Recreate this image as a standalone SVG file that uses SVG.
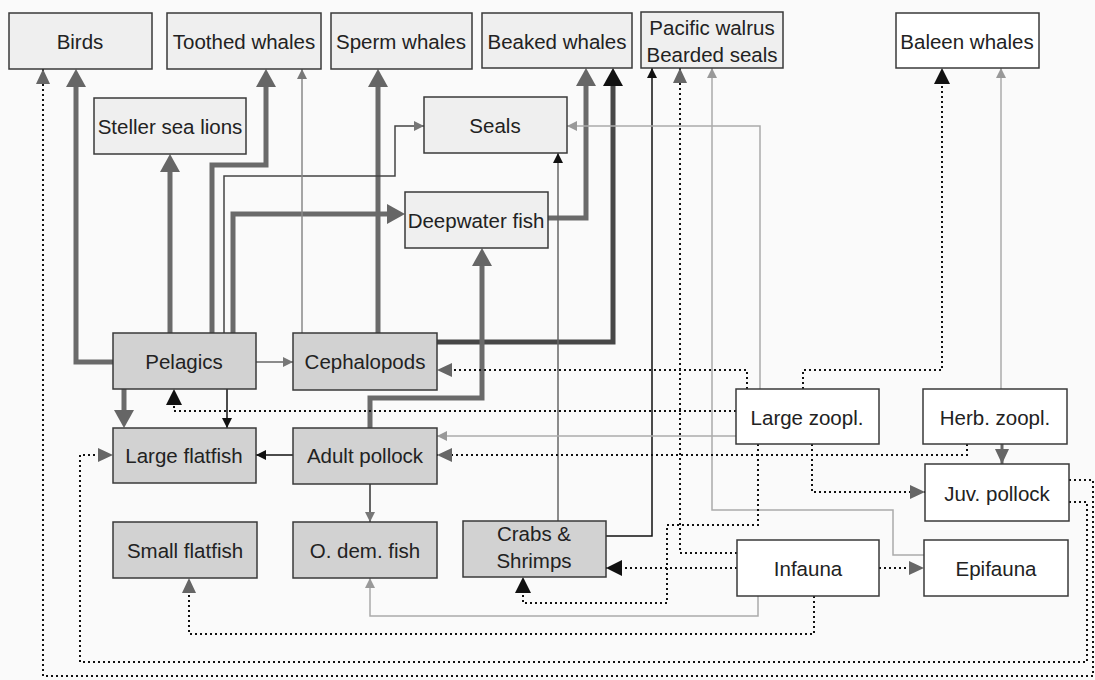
<svg xmlns="http://www.w3.org/2000/svg" width="1095" height="680" viewBox="0 0 1095 680">
<style>
.n rect{stroke:#3a3a3a;stroke-width:1.5}
.lt rect{fill:#efefef}
.dk rect{fill:#d2d2d2}
.wh rect{fill:#ffffff}
text{font-family:"Liberation Sans",Arial,sans-serif;font-size:20.5px;fill:#222;text-anchor:middle}
.c path{fill:none}
.thick{stroke:#6a6a6a;stroke-width:5}
.thickd{stroke:#474747;stroke-width:5}
.thin{stroke:#666;stroke-width:1.5}
.blk{stroke:#111;stroke-width:1.5}
.lg{stroke:#ababab;stroke-width:1.5}
.dot{stroke:#111;stroke-width:2;stroke-dasharray:2 3}
</style>
<defs>
<marker id="mT" markerUnits="userSpaceOnUse" markerWidth="20" markerHeight="20" refX="10" refY="10" orient="auto"><path d="M0,0 L18,10 L0,20 z" fill="#666"/></marker>
<marker id="mTK" markerUnits="userSpaceOnUse" markerWidth="20" markerHeight="20" refX="10" refY="10" orient="auto"><path d="M0,0 L18,10 L0,20 z" fill="#111"/></marker>
<marker id="mG" markerUnits="userSpaceOnUse" markerWidth="12" markerHeight="12" refX="10" refY="5" orient="auto"><path d="M0,0 L10,5 L0,10 z" fill="#777"/></marker>
<marker id="mK" markerUnits="userSpaceOnUse" markerWidth="12" markerHeight="12" refX="10" refY="5" orient="auto"><path d="M0,0 L10,5 L0,10 z" fill="#111"/></marker>
<marker id="mL" markerUnits="userSpaceOnUse" markerWidth="12" markerHeight="12" refX="10" refY="5" orient="auto"><path d="M0,0 L10,5 L0,10 z" fill="#999"/></marker>
<marker id="mDG" markerUnits="userSpaceOnUse" markerWidth="16" markerHeight="16" refX="15" refY="7" orient="auto"><path d="M0,0 L15,7 L0,14 z" fill="#666"/></marker>
<marker id="mDK" markerUnits="userSpaceOnUse" markerWidth="18" markerHeight="18" refX="16" refY="8" orient="auto"><path d="M0,0 L16,8 L0,16 z" fill="#111"/></marker>
</defs>
<rect x="0" y="0" width="1095" height="680" fill="#fafafa"/>
<g id="connectors" class="c">
<path class="thick" d="M113,362 H76 V77" marker-end="url(#mT)"/>
<path class="thick" d="M170,333 V162" marker-end="url(#mT)"/>
<path class="thick" d="M212,333 V165 H266 V77" marker-end="url(#mT)"/>
<path class="thick" d="M233,333 V214 H397" marker-end="url(#mT)"/>
<path class="thick" d="M124,389 V420" marker-end="url(#mT)"/>
<path class="thick" d="M378,333 V77" marker-end="url(#mT)"/>
<path class="thickd" d="M437,342 H613 V76" marker-end="url(#mTK)"/>
<path class="thick" d="M548,218 H586 V76" marker-end="url(#mT)"/>
<path class="thick" d="M370,428 V398 H482 V256" marker-end="url(#mT)"/>
<path style="stroke:#666;stroke-width:3" d="M1002,444 V464" marker-end="url(#mDG)"/>
<path class="thin" style="stroke:#444" d="M224,333 V176 H395 V126 H424" marker-end="url(#mG)"/>
<path class="thin" d="M256,362 H293" marker-end="url(#mG)"/>
<path class="thin" style="stroke:#888" d="M302,333 V69" marker-end="url(#mG)"/>
<path class="thin" style="stroke:#333" d="M370,484 V522" marker-end="url(#mG)"/>
<path class="thin" d="M558,521 V153" marker-end="url(#mK)"/>
<path class="blk" d="M227,389 V428" marker-end="url(#mK)"/>
<path class="blk" d="M293,455 H256" marker-end="url(#mK)"/>
<path class="blk" d="M606,536 H652 V68" marker-end="url(#mK)"/>
<path class="lg" d="M760,389 V126 H567" marker-end="url(#mL)"/>
<path class="lg" d="M924,555 H893 V510 H712 V68" marker-end="url(#mL)"/>
<path class="lg" d="M736,436 H437" marker-end="url(#mL)"/>
<path class="lg" d="M1001,389 V68" marker-end="url(#mL)"/>
<path class="lg" d="M758,596 V616 H370 V578" marker-end="url(#mL)"/>
<path class="dot" d="M1069,480 H1093 V676 H43 V69" marker-end="url(#mDG)"/>
<path class="dot" d="M1069,502 H1087 V662 H80 V455 H113" marker-end="url(#mDG)"/>
<path class="dot" d="M736,411 H174 V389" marker-end="url(#mDK)"/>
<path class="dot" d="M747,389 V370 H437" marker-end="url(#mDG)"/>
<path class="dot" d="M803,389 V370 H942 V68" marker-end="url(#mDK)"/>
<path class="dot" d="M967,444 V455 H437" marker-end="url(#mDG)"/>
<path class="dot" d="M812,444 V492 H925" marker-end="url(#mDG)"/>
<path class="dot" d="M758,444 V525 H667 V603 H523 V577" marker-end="url(#mDK)"/>
<path class="dot" d="M737,553 H680 V68" marker-end="url(#mDG)"/>
<path class="dot" d="M737,568 H606" marker-end="url(#mDK)"/>
<path class="dot" d="M879,568 H924" marker-end="url(#mDG)"/>
<path class="dot" d="M814,596 V634 H189 V578" marker-end="url(#mDG)"/>
</g>
<g id="birds" class="n lt"><rect x="9" y="13" width="143" height="56"/><text x="80" y="49">Birds</text></g>
<g id="toothed-whales" class="n lt"><rect x="167" y="13" width="154" height="56"/><text x="244" y="49">Toothed whales</text></g>
<g id="sperm-whales" class="n lt"><rect x="331" y="13" width="141" height="56"/><text x="401" y="49">Sperm whales</text></g>
<g id="beaked-whales" class="n lt"><rect x="482" y="13" width="150" height="55"/><text x="557" y="49">Beaked whales</text></g>
<g id="walrus-seals" class="n lt"><rect x="641" y="12" width="142" height="56"/><text x="712" y="35">Pacific walrus</text><text x="712" y="62">Bearded seals</text></g>
<g id="baleen-whales" class="n wh"><rect x="896" y="13" width="143" height="55"/><text x="967" y="49">Baleen whales</text></g>
<g id="steller" class="n lt"><rect x="94" y="98" width="152" height="56"/><text x="170" y="134">Steller sea lions</text></g>
<g id="seals" class="n lt"><rect x="424" y="97" width="143" height="56"/><text x="495" y="133">Seals</text></g>
<g id="deepwater-fish" class="n lt"><rect x="405" y="192" width="143" height="56"/><text x="476" y="228">Deepwater fish</text></g>
<g id="pelagics" class="n dk"><rect x="113" y="333" width="143" height="56"/><text x="184" y="369">Pelagics</text></g>
<g id="cephalopods" class="n dk"><rect x="293" y="333" width="144" height="57"/><text x="365" y="369">Cephalopods</text></g>
<g id="large-flatfish" class="n dk"><rect x="113" y="428" width="143" height="55"/><text x="184" y="463">Large flatfish</text></g>
<g id="adult-pollock" class="n dk"><rect x="293" y="428" width="144" height="56"/><text x="365" y="463">Adult pollock</text></g>
<g id="small-flatfish" class="n dk"><rect x="113" y="522" width="144" height="56"/><text x="185" y="558">Small flatfish</text></g>
<g id="o-dem-fish" class="n dk"><rect x="293" y="522" width="144" height="56"/><text x="365" y="558">O. dem. fish</text></g>
<g id="crabs-shrimps" class="n dk"><rect x="463" y="521" width="143" height="56"/><text x="534" y="541">Crabs &amp;</text><text x="534" y="568">Shrimps</text></g>
<g id="large-zoopl" class="n wh"><rect x="736" y="389" width="143" height="55"/><text x="807" y="425">Large zoopl.</text></g>
<g id="herb-zoopl" class="n wh"><rect x="923" y="389" width="144" height="55"/><text x="995" y="425">Herb. zoopl.</text></g>
<g id="juv-pollock" class="n wh"><rect x="925" y="464" width="144" height="57"/><text x="997" y="501">Juv. pollock</text></g>
<g id="infauna" class="n wh"><rect x="737" y="540" width="142" height="56"/><text x="808" y="576">Infauna</text></g>
<g id="epifauna" class="n wh"><rect x="924" y="540" width="144" height="56"/><text x="996" y="576">Epifauna</text></g>
</svg>
